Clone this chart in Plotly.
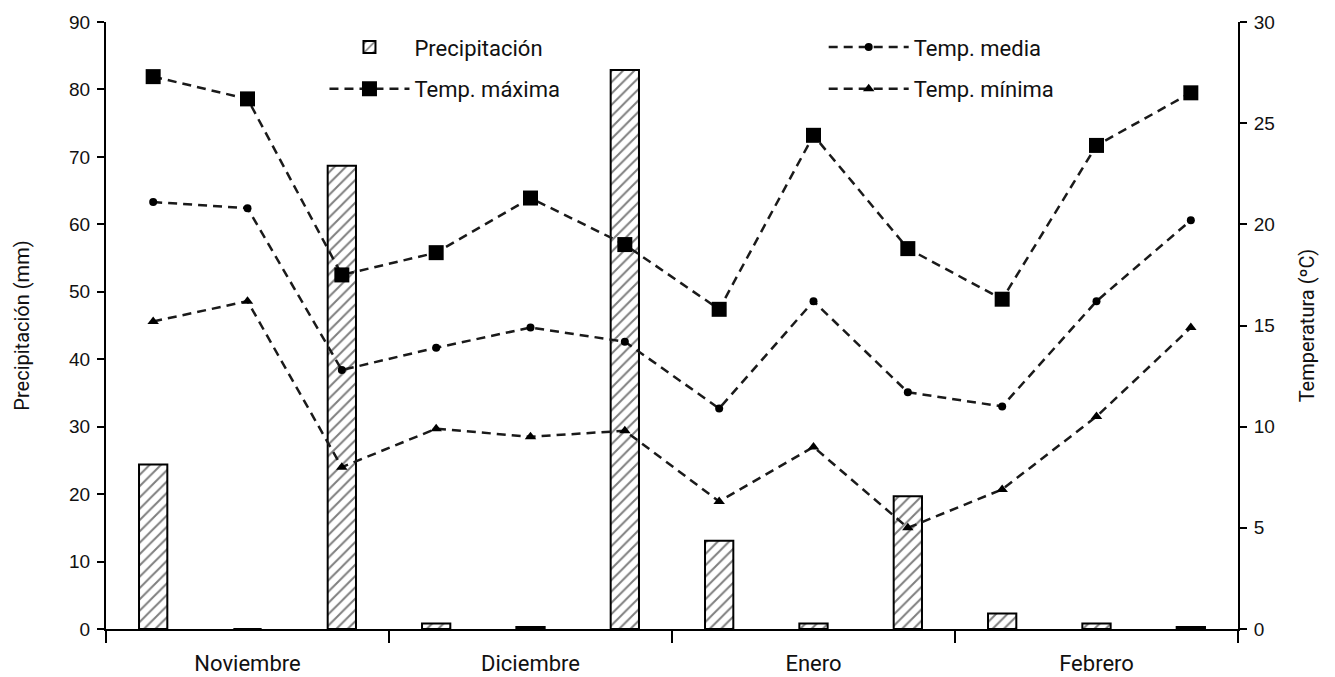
import plotly.graph_objects as go

months = ["Noviembre", "Diciembre", "Enero", "Febrero"]
periods = list(range(12))
precip = [24.4, 0, 68.7, 0.8, 0.3, 82.9, 13.1, 0.8, 19.7, 2.3, 0.8, 0.3]
t_max = [27.3, 26.2, 17.5, 18.6, 21.3, 19.0, 15.8, 24.4, 18.8, 16.3, 23.9, 26.5]
t_media = [21.1, 20.8, 12.8, 13.9, 14.9, 14.2, 10.9, 16.2, 11.7, 11.0, 16.2, 20.2]
t_min = [15.2, 16.2, 8.0, 9.9, 9.5, 9.8, 6.3, 9.0, 5.0, 6.9, 10.5, 14.9]

month_centers = [1, 4, 7, 10]

NARROW = "Roboto"
REG = "Liberation Sans"
LC = "#1a1a1a"
DASH = "9px,6px"

fig = go.Figure()
fig.add_trace(go.Bar(
    x=periods, y=precip, name="Precipitación", width=0.3,
    marker=dict(color="white", line=dict(color="black", width=2),
                pattern=dict(shape="/", fgcolor="black", bgcolor="white", size=8, solidity=0.25)),
    legend="legend", legendgroup="a", yaxis="y"))
fig.add_trace(go.Scatter(
    x=periods, y=t_max, name="Temp. máxima", mode="lines+markers", yaxis="y2",
    line=dict(color=LC, width=2.5, dash=DASH),
    marker=dict(symbol="square", size=15, color="black"), legend="legend", legendgroup="b"))
fig.add_trace(go.Scatter(
    x=periods, y=t_media, name="Temp. media", mode="lines+markers", yaxis="y2",
    line=dict(color=LC, width=2.5, dash=DASH),
    marker=dict(symbol="circle", size=8, color="black"), legend="legend2", legendgroup="c"))
fig.add_trace(go.Scatter(
    x=periods, y=t_min, name="Temp. mínima", mode="lines+markers", yaxis="y2",
    line=dict(color=LC, width=2.5, dash=DASH),
    marker=dict(symbol="triangle-up", size=10, color="black"), legend="legend2", legendgroup="d"))

fig.update_layout(
    width=1327, height=669,
    margin=dict(l=98, r=97, t=14, b=48),
    paper_bgcolor="white", plot_bgcolor="white",
    showlegend=True,
    xaxis=dict(range=[-0.5, 11.5], tickmode="array", tickvals=month_centers, ticktext=months,
               ticks="", ticklabelstandoff=14, showline=True, linecolor="black", linewidth=2,
               showgrid=False, automargin=False,
               zeroline=False, tickfont=dict(family=NARROW, size=22, color="#111"),
               minor=dict(ticks="outside", ticklen=12, tickwidth=2, tickcolor="black",
                          tick0=-0.5, dtick=3, showgrid=False)),
    yaxis=dict(range=[0, 90], dtick=10, ticks="outside", ticklen=7, tickwidth=2, tickcolor="black",
               ticklabelstandoff=3, automargin=False,
               showline=True, linecolor="black", linewidth=2, showgrid=False, zeroline=False,
               tickfont=dict(family=REG, size=19, color="#111"),
               title=dict(text="Precipitación (mm)", font=dict(family=NARROW, size=20, color="#111"), standoff=34)),
    yaxis2=dict(range=[0, 30], dtick=5, ticks="outside", ticklen=7, tickwidth=2, tickcolor="black",
                ticklabelstandoff=3, automargin=False,
                overlaying="y", side="right", showline=True, linecolor="black", linewidth=2,
                showgrid=False, zeroline=False,
                tickfont=dict(family=REG, size=19, color="#111"),
                title=dict(text="Temperatura (ºC)", font=dict(family=NARROW, size=20, color="#111"), standoff=26)),
    legend=dict(x=0.193, y=0.993, xanchor="left", yanchor="top", bgcolor="rgba(0,0,0,0)",
                font=dict(family=NARROW, size=22, color="#111"), itemwidth=80,
                tracegroupgap=10, traceorder="grouped"),
    legend2=dict(x=0.634, y=0.993, xanchor="left", yanchor="top", bgcolor="rgba(0,0,0,0)",
                 font=dict(family=NARROW, size=22, color="#111"), itemwidth=80,
                 tracegroupgap=10, traceorder="grouped"),
    bargap=0.7,
)

fig.write_html("out.html")
